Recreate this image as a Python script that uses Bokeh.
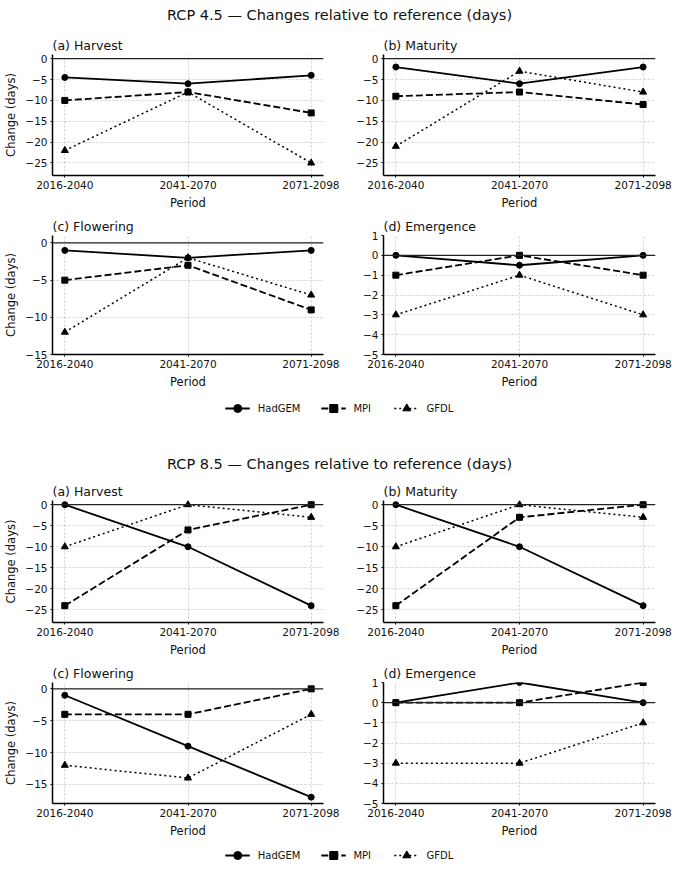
from bokeh.plotting import figure
from bokeh.layouts import column, row
from bokeh.models import (Range1d, Span, SingleIntervalTicker, FixedTicker,
                          CustomJSTickFormatter, Legend, LegendItem, Label)
from bokeh.embed import file_html
from bokeh.resources import INLINE

# ---------------- data ----------------
periods = ["2016-2040", "2041-2070", "2071-2098"]
models = ["HadGEM", "MPI", "GFDL"]

# RCP 4.5
r45_harvest = {"HadGEM": [-4.5, -6, -4], "MPI": [-10, -8, -13], "GFDL": [-22, -8, -25]}
r45_maturity = {"HadGEM": [-2, -6, -2], "MPI": [-9, -8, -11], "GFDL": [-21, -3, -8]}
r45_flowering = {"HadGEM": [-1, -2, -1], "MPI": [-5, -3, -9], "GFDL": [-12, -2, -7]}
r45_emergence = {"HadGEM": [0, -0.5, 0], "MPI": [-1, 0, -1], "GFDL": [-3, -1, -3]}

# RCP 8.5
r85_harvest = {"HadGEM": [0, -10, -24], "MPI": [-24, -6, 0], "GFDL": [-10, 0, -3]}
r85_maturity = {"HadGEM": [0, -10, -24], "MPI": [-24, -3, 0], "GFDL": [-10, 0, -3]}
r85_flowering = {"HadGEM": [-1, -9, -17], "MPI": [-4, -4, 0], "GFDL": [-12, -14, -4]}
r85_emergence = {"HadGEM": [0, 1, 0], "MPI": [0, 0, 1], "GFDL": [-3, -3, -1]}

# ---------------- styles ----------------
FONT = "DejaVu Sans"
STYLE = {
    "HadGEM": dict(dash="solid", marker="circle", size=6, width=1.8),
    "MPI": dict(dash="7 3", marker="square", size=6, width=1.8),
    "GFDL": dict(dash="2 3", marker="triangle", size=7, width=1.5),
}

minus_fmt = CustomJSTickFormatter(code="""
    return tick < 0 ? "\u2212" + Math.abs(tick) : String(tick);
""")


def panel(title, data, ylim, interval, left, height, top, bottom):
    p = figure(width=339, height=height,
               x_range=Range1d(-0.1, 2.1), y_range=Range1d(*ylim),
               output_backend="svg", toolbar_location=None,
               min_border_left=52 if left else 44,
               min_border_right=16 if left else 23,
               min_border_top=top, min_border_bottom=bottom)
    p.outline_line_color = None
    p.background_fill_color = "white"
    p.border_fill_color = "white"

    p.title.text = title
    p.title.align = "left"
    p.title.text_font = FONT
    p.title.text_font_size = "12.5px"
    p.title.text_font_style = "normal"
    p.title.text_color = "#111111"
    p.title.standoff = 3

    xs = list(range(len(periods)))
    for m in models:
        st = STYLE[m]
        p.line(xs, data[m], line_color="black", line_width=st["width"],
               line_dash=st["dash"])
        p.scatter(xs, data[m], marker=st["marker"], size=st["size"],
                  fill_color="black", line_color="black")

    p.add_layout(Span(location=0, dimension="width", line_color="#222222",
                      line_width=1.2))

    # axes
    xa = p.xaxis[0]
    xa.ticker = FixedTicker(ticks=xs)
    xa.major_label_overrides = {i: lab for i, lab in enumerate(periods)}
    xa.axis_label = "Period"
    ya = p.yaxis[0]
    ya.ticker = SingleIntervalTicker(interval=interval, num_minor_ticks=0)
    ya.formatter = minus_fmt
    if left:
        ya.axis_label = "Change (days)"
    for ax in (xa, ya):
        ax.axis_line_color = "black"
        ax.axis_line_width = 1.5
        ax.major_tick_in = 0
        ax.major_tick_out = 2
        ax.major_tick_line_color = "black"
        ax.minor_tick_line_color = None
        ax.major_label_text_font = FONT
        ax.major_label_text_font_size = "10.5px"
        ax.major_label_text_color = "#111111"
        ax.major_label_standoff = 3
        ax.axis_label_text_font = FONT
        ax.axis_label_text_font_size = "11.5px"
        ax.axis_label_text_font_style = "normal"
        ax.axis_label_text_color = "#111111"
        ax.axis_label_standoff = 4

    for g in (p.xgrid[0], p.ygrid[0]):
        g.grid_line_color = "#b5b5b5"
        g.grid_line_dash = "2 2"
        g.grid_line_width = 0.8
        g.grid_line_alpha = 0.8
    p.xgrid[0].ticker = FixedTicker(ticks=xs)
    return p


def text_fig(height, text, y_from_bottom, legend_margin=0, with_legend=False):
    # the legend proxies reuse the first panel's series, kept outside the visible range
    p = figure(width=678, height=height, x_range=Range1d(100, 101),
               y_range=Range1d(100, 101),
               output_backend="svg", toolbar_location=None,
               min_border=0, min_border_left=0, min_border_right=0,
               min_border_top=0, min_border_bottom=0)
    p.axis.visible = False
    p.grid.visible = False
    p.outline_line_color = None
    if with_legend:
        xs = list(range(len(periods)))
        items = []
        for m in models:
            st = STYLE[m]
            l = p.line(xs, r45_harvest[m], line_color="black", line_width=st["width"],
                       line_dash=st["dash"])
            s = p.scatter(xs, r45_harvest[m], marker=st["marker"], size=st["size"] - 2,
                          fill_color="black", line_color="black")
            items.append(LegendItem(label=m, renderers=[l, s]))
        leg = Legend(items=items, orientation="horizontal", location="top_center",
                     border_line_color=None, background_fill_alpha=0,
                     label_text_font=FONT, label_text_font_size="10px",
                     label_text_color="#111111",
                     glyph_width=25, glyph_height=20, label_standoff=8,
                     spacing=20, padding=2, margin=legend_margin)
        p.add_layout(leg, "center")
    if text:
        p.add_layout(Label(x=339, y=y_from_bottom, x_units="screen", y_units="screen",
                           text=text, text_align="center", text_baseline="middle",
                           text_font=FONT, text_font_size="14.5px",
                           text_color="#111111"))
    return p


t1 = text_fig(30, "RCP 4.5 \u2014 Changes relative to reference (days)", 16)
a1 = panel("(a) Harvest", r45_harvest, (-28, 1), 5, True, 185, 24, 40)
b1 = panel("(b) Maturity", r45_maturity, (-28, 1), 5, False, 185, 24, 40)
c1 = panel("(c) Flowering", r45_flowering, (-15, 1), 5, True, 180, 18, 41)
d1 = panel("(d) Emergence", r45_emergence, (-5, 1), 1, False, 180, 18, 41)
mid = text_fig(85, "RCP 8.5 \u2014 Changes relative to reference (days)", 17,
               legend_margin=3, with_legend=True)
a2 = panel("(a) Harvest", r85_harvest, (-28, 1), 5, True, 182, 18, 40)
b2 = panel("(b) Maturity", r85_maturity, (-28, 1), 5, False, 182, 18, 40)
c2 = panel("(c) Flowering", r85_flowering, (-18, 1), 5, True, 183, 18, 42)
d2 = panel("(d) Emergence", r85_emergence, (-5, 1), 1, False, 183, 18, 42)
leg2 = text_fig(25, None, 0, legend_margin=0, with_legend=True)

layout = column(t1, row(a1, b1), row(c1, d1), mid, row(a2, b2), row(c2, d2), leg2,
                spacing=0)

open("out.html", "w").write(file_html(layout, INLINE))
